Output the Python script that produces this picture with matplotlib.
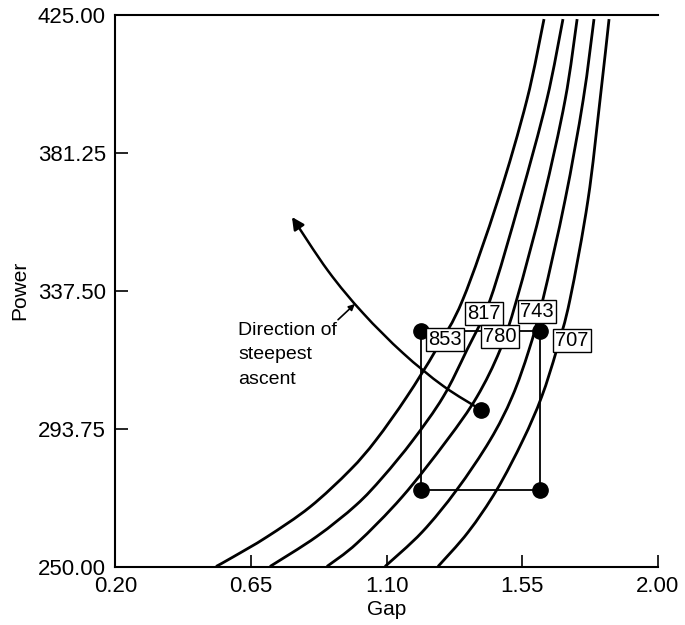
import matplotlib
matplotlib.use("Agg")
import matplotlib.pyplot as plt
import numpy as np
from matplotlib.path import Path
from matplotlib.patches import PathPatch, FancyArrowPatch

plt.rcParams['font.family'] = ['Liberation Sans', 'DejaVu Sans']

# ---- data ----
x_ticks = [0.20, 0.65, 1.10, 1.55, 2.00]
y_ticks = [250.00, 293.75, 337.50, 381.25, 425.00]

# contour curves (Gap, Power)
c853_x = [0.534, 0.590, 0.703, 0.846, 0.979, 1.065, 1.167, 1.264, 1.353, 1.470, 1.566, 1.623]
c853_y = [250.0, 253.0, 259.4, 268.9, 280.6, 290.1, 303.8, 318.7, 334.6, 366.3, 398.0, 423.7]
c817_x = [0.713, 0.868, 0.999, 1.088, 1.188, 1.288, 1.367, 1.444, 1.543, 1.632, 1.686]
c817_y = [250.0, 259.5, 269.5, 278.4, 290.1, 303.8, 318.7, 334.6, 366.3, 398.0, 423.7]
c780_x = [0.902, 1.002, 1.152, 1.301, 1.400, 1.477, 1.532, 1.620, 1.693, 1.733]
c780_y = [250.0, 257.4, 272.1, 290.1, 303.8, 318.7, 334.6, 366.3, 398.0, 423.7]
c743_x = [1.095, 1.218, 1.333, 1.444, 1.517, 1.573, 1.619, 1.693, 1.753, 1.789]
c743_y = [250.0, 260.9, 274.3, 290.1, 303.8, 318.7, 334.6, 366.3, 398.0, 423.7]
c707_x = [1.271, 1.371, 1.466, 1.553, 1.615, 1.665, 1.709, 1.769, 1.809, 1.839]
c707_y = [250.0, 260.9, 274.3, 290.1, 303.8, 318.7, 334.6, 366.3, 398.0, 423.7]
curves_x = [c853_x, c817_x, c780_x, c743_x, c707_x]
curves_y = [c853_y, c817_y, c780_y, c743_y, c707_y]

# design points
gap_lo, gap_hi, gap_c = 1.215, 1.61, 1.414
pow_lo, pow_hi, pow_c = 274.3, 324.8, 299.7

# path of steepest ascent
asc_x = [1.414, 1.288, 1.155, 1.022, 0.906, 0.786]
asc_y = [299.7, 307.3, 317.7, 330.4, 343.8, 360.9]

# contour labels
lab_text = ["853", "817", "780", "743", "707"]
lab_x = [1.294, 1.424, 1.477, 1.600, 1.716]
lab_y = [321.9, 330.4, 323.1, 330.8, 321.6]

# annotation text lines
note_lines = ["Direction of", "steepest", "ascent"]
note_x = 0.607
note_y = [323.5, 316.0, 308.0]


def smooth_path(xs, ys):
    """Catmull-Rom through the read points, drawn as cubic Bezier segments."""
    P = np.column_stack([xs, ys]).astype(float)
    n = len(P)
    verts = [P[0]]
    codes = [Path.MOVETO]
    for i in range(n - 1):
        p0 = P[i - 1] if i > 0 else P[i]
        p1 = P[i]
        p2 = P[i + 1]
        p3 = P[i + 2] if i + 2 < n else P[i + 1]
        c1 = p1 + (p2 - p0) / 6.0
        c2 = p2 - (p3 - p1) / 6.0
        verts += [c1, c2, p2]
        codes += [Path.CURVE4] * 3
    return Path(verts, codes)


# ---- figure ----
fig = plt.figure(figsize=(6.85, 6.25), dpi=100)
ax = fig.add_axes([0.1686, 0.0936, 0.7913, 0.8824])
ax.set_xlim(0.20, 2.00)
ax.set_ylim(250.0, 425.0)

for cx, cy in zip(curves_x, curves_y):
    ax.add_patch(PathPatch(smooth_path(cx, cy), fc='none', ec='black',
                           lw=2.0, zorder=2, clip_on=True))

# factorial square
ax.plot([gap_lo, gap_hi, gap_hi, gap_lo, gap_lo],
        [pow_lo, pow_lo, pow_hi, pow_hi, pow_lo],
        color='black', lw=1.3, zorder=3)
ax.plot([gap_lo, gap_hi, gap_lo, gap_hi, gap_c],
        [pow_lo, pow_lo, pow_hi, pow_hi, pow_c],
        'o', color='black', ms=11, zorder=5)

# steepest ascent path with arrow head
ax.add_patch(FancyArrowPatch(path=smooth_path(asc_x, asc_y),
                             arrowstyle='-|>', color='black', lw=1.8,
                             mutation_scale=18, zorder=3))

# text with pointer
ax.annotate('', xy=(0.995, 333.3), xytext=(0.939, 328.3),
            arrowprops=dict(arrowstyle='-|>', color='black', lw=1.2,
                            mutation_scale=9, shrinkA=0, shrinkB=0))
for line, ny in zip(note_lines, note_y):
    ax.text(note_x, ny, line, fontsize=14, ha='left', va='baseline')

for t, lx, ly in zip(lab_text, lab_x, lab_y):
    ax.text(lx, ly, t, fontsize=14.5, ha='center', va='center', zorder=6,
            bbox=dict(boxstyle='square,pad=0.1', fc='white', ec='black', lw=1.0))

ax.set_xticks(x_ticks)
ax.set_xticklabels([f"{v:.2f}" for v in x_ticks])
ax.set_yticks(y_ticks)
ax.set_yticklabels([f"{v:.2f}" for v in y_ticks])
ax.tick_params(direction='in', length=9, width=1.2, labelsize=16, pad=7)
ax.spines['right'].set_visible(False)
for s in ['left', 'top', 'bottom']:
    ax.spines[s].set_linewidth(1.5)

ax.set_xlabel("Gap", fontsize=15, labelpad=2)
ax.set_ylabel("Power", fontsize=15, labelpad=6)

fig.savefig("out.png", dpi=100)
